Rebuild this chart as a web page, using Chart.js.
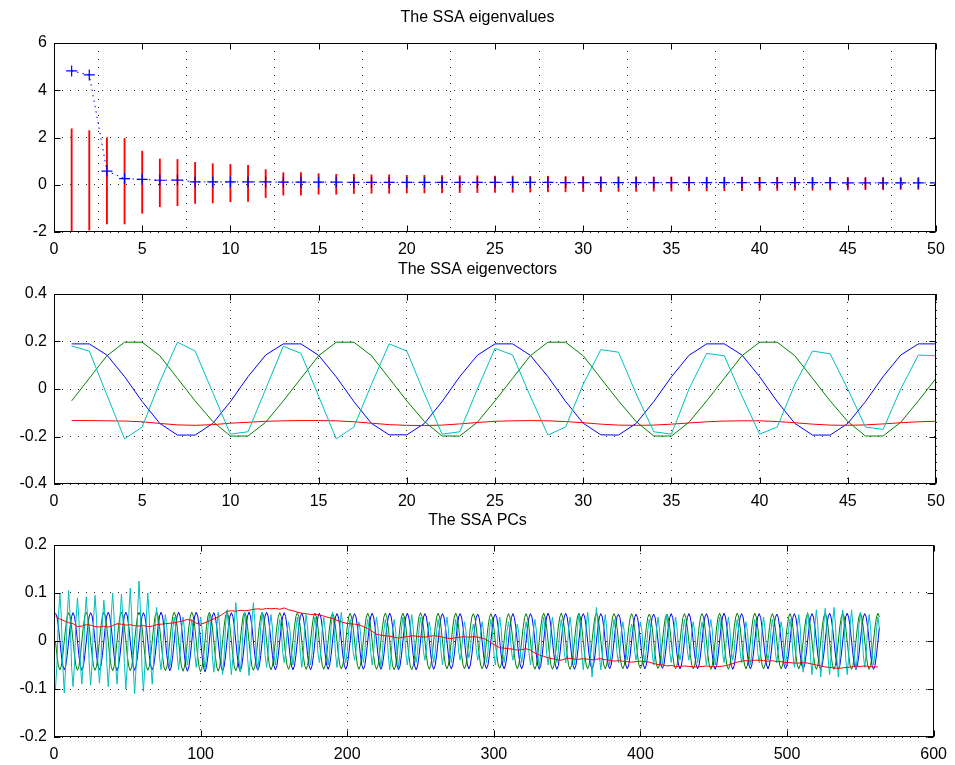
<!DOCTYPE html>
<html>
<head>
<meta charset="utf-8">
<title>SSA</title>
<script src="https://cdn.jsdelivr.net/npm/chart.js@4.4.1/dist/chart.umd.min.js"></script>
<style>
  html, body { margin: 0; padding: 0; background: #fff; }
  body { width: 955px; height: 765px; position: relative; overflow: hidden; }
  canvas { position: absolute; left: 0; }
</style>
</head>
<body>
<canvas id="eigval" width="955" height="262" style="top:0px"></canvas>
<canvas id="eigvec" width="955" height="259" style="top:255px"></canvas>
<canvas id="pcs" width="955" height="260" style="top:507px"></canvas>
<script>
// eigenvalues + error bars
const eigVal = [4.82, 4.65, 0.58, 0.26, 0.23, 0.19, 0.2, 0.12, 0.12, 0.12,
  0.12, 0.12, 0.11, 0.11, 0.11, 0.11, 0.1, 0.1, 0.1, 0.1,
  0.1, 0.1, 0.1, 0.1, 0.1, 0.1, 0.1, 0.1, 0.09, 0.09,
  0.09, 0.09, 0.09, 0.09, 0.09, 0.09, 0.09, 0.09, 0.09, 0.09,
  0.09, 0.09, 0.09, 0.09, 0.08, 0.08, 0.08, 0.08, 0.08, 0.08];
const eigHi = [2.37, 2.29, 1.99, 1.96, 1.42, 1.09, 1.07, 0.95, 0.89, 0.86,
  0.82, 0.64, 0.51, 0.51, 0.47, 0.44, 0.44, 0.42, 0.42, 0.4,
  0.4, 0.39, 0.38, 0.38, 0.37, 0.37, 0.36, 0.36, 0.35, 0.35,
  0.34, 0.34, 0.34, 0.33, 0.33, 0.33, 0.32, 0.32, 0.32, 0.31,
  0.31, 0.3, 0.3, 0.3, 0.3, 0.29, 0.29, 0.28, 0.28, 0.28];
const eigLo = [-2.0, -1.92, -1.66, -1.66, -1.21, -0.93, -0.89, -0.79, -0.77, -0.72,
  -0.71, -0.54, -0.44, -0.44, -0.4, -0.4, -0.37, -0.36, -0.36, -0.35,
  -0.35, -0.34, -0.33, -0.33, -0.32, -0.32, -0.31, -0.3, -0.3, -0.29,
  -0.29, -0.28, -0.28, -0.27, -0.27, -0.26, -0.26, -0.25, -0.25, -0.24,
  -0.24, -0.23, -0.23, -0.22, -0.22, -0.21, -0.21, -0.2, -0.2, -0.2];

// eigenvectors 1-4
const ev1 = [.19,.19,.143,.052,-.053,-.145,-.194,-.194,-.145,-.053,.052,.143,
  .19,.19,.142,.051,-.053,-.145,-.193,-.193,-.145,-.053,.052,.142,
  .19,.19,.142,.052,-.052,-.144,-.193,-.194,-.145,-.053,.051,.142,
  .19,.19,.143,.052,-.053,-.145,-.194,-.194,-.145,-.053,.052,.143,
  .19,.19];
const ev2 = [-.05,.045,.14,.197,.197,.14,.045,-.05,-.137,-.198,-.198,-.14,
  -.05,.045,.14,.197,.197,.14,.045,-.05,-.137,-.198,-.198,-.14,
  -.05,.045,.14,.197,.197,.14,.045,-.05,-.137,-.198,-.198,-.14,
  -.05,.045,.14,.197,.197,.14,.045,-.05,-.137,-.198,-.198,-.14,
  -.05,.045];
const ev3 = [-.133,-.133,-.134,-.135,-.138,-.145,-.151,-.153,-.15,-.144,
  -.14,-.136,-.134,-.133,-.133,-.134,-.138,-.144,-.15,-.153,
  -.154,-.152,-.147,-.141,-.136,-.134,-.133,-.134,-.137,-.142,
  -.148,-.152,-.153,-.152,-.148,-.143,-.138,-.135,-.134,-.134,
  -.137,-.142,-.148,-.152,-.153,-.151,-.147,-.142,-.138,-.136];
const ev4 = [.181,.16,-.025,-.21,-.16,.03,.197,.16,-.015,-.19,
  -.18,0,.18,.15,-.03,-.21,-.16,.02,.19,.16,
  -.02,-.19,-.18,0,.171,.143,-.03,-.194,-.16,.02,
  .166,.155,-.02,-.18,-.19,0,.15,.14,-.03,-.19,
  -.16,.02,.16,.148,0,-.16,-.17,0,.143,.14];

// principal components
const pc1 = [
  .058,.051,.03,.001,-.029,-.051,-.06,-.052,-.03,0,.03,.051,
  .059,.051,.029,0,-.03,-.052,-.061,-.053,-.031,-.001,.029,.051,
  .059,.052,.03,0,-.03,-.052,-.06,-.052,-.03,0,.03,.052,
  .06,.052,.03,0,-.031,-.053,-.062,-.053,-.03,0,.03,.052,
  .06,.052,.03,0,-.03,-.052,-.061,-.052,-.03,0,.03,.051,
  .059,.051,.03,0,-.03,-.052,-.06,-.052,-.03,0,.03,.052,
  .06,.052,.03,.001,-.03,-.053,-.062,-.054,-.031,0,.03,.052,
  .06,.052,.03,0,-.031,-.054,-.063,-.054,-.031,0,.03,.052,
  .06,.052,.03,0,-.031,-.055,-.064,-.055,-.031,0,.03,.052,
  .059,.051,.03,0,-.031,-.054,-.063,-.054,-.031,0,.03,.052,
  .059,.051,.03,0,-.031,-.054,-.062,-.054,-.031,0,.03,.052,
  .06,.052,.03,0,-.03,-.053,-.061,-.053,-.03,0,.03,.052,
  .06,.052,.03,0,-.03,-.052,-.06,-.052,-.03,0,.03,.051,
  .059,.051,.029,0,-.03,-.052,-.06,-.052,-.03,0,.03,.051,
  .058,.05,.029,0,-.03,-.052,-.06,-.052,-.03,0,.029,.05,
  .058,.05,.029,0,-.029,-.051,-.059,-.051,-.03,0,.029,.05,
  .057,.05,.029,0,-.029,-.051,-.059,-.051,-.029,0,.029,.05,
  .057,.05,.029,0,-.029,-.051,-.059,-.051,-.029,0,.029,.05,
  .058,.05,.029,0,-.029,-.051,-.059,-.051,-.029,0,.029,.05,
  .058,.05,.029,0,-.03,-.052,-.06,-.052,-.03,0,.029,.05,
  .058,.05,.029,0,-.03,-.052,-.06,-.052,-.03,0,.029,.05,
  .057,.05,.029,0,-.029,-.051,-.059,-.051,-.029,0,.029,.05,
  .057,.05,.029,0,-.029,-.051,-.058,-.05,-.029,0,.029,.05,
  .057,.05,.029,0,-.029,-.05,-.058,-.05,-.029,0,.029,.049,
  .056,.049,.028,0,-.029,-.05,-.058,-.05,-.029,0,.028,.049,
  .056,.049,.028,0,-.029,-.05,-.058,-.05,-.029,0,.028,.049,
  .057,.049,.028,0,-.029,-.05,-.058,-.05,-.029,0,.028,.049,
  .057,.05,.029,0,-.029,-.051,-.059,-.051,-.029,0,.029,.05,
  .058,.05,.029,0,-.029,-.051,-.059,-.051,-.029,0,.029,.05,
  .058,.05,.029,0,-.029,-.051,-.059,-.051,-.029,0,.029,.05,
  .057,.05,.029,0,-.029,-.05,-.058,-.05,-.029,0,.029,.05,
  .057,.05,.029,0,-.029,-.05,-.058,-.05,-.029,0,.029,.05,
  .056,.049,.028,0,-.029,-.05,-.058,-.05,-.029,0,.028,.049,
  .056,.049,.028,0,-.029,-.05,-.058,-.05,-.029,0,.028,.049,
  .056,.049,.028,0,-.029,-.05,-.057,-.05,-.028,0,.028,.049,
  .057,.049,.028,0,-.029,-.05,-.058,-.05,-.029,0,.028,.049,
  .057,.05,.029,0,-.029,-.05,-.058,-.05,-.029,0,.029,.05,
  .057,.05,.029,0,-.029,-.051,-.059,-.051,-.029,0,.029,.05,
  .058,.05,.029,0,-.029,-.051,-.059,-.051,-.029,0,.029,.05,
  .057,.05,.029,0,-.029,-.05,-.058,-.05,-.029,0,.029,.05,
  .057,.049,.028,0,-.029,-.05,-.058,-.05,-.029,0,.028,.049,
  .056,.049,.028,0,-.029,-.05,-.058,-.05,-.029,0,.028,.049,
  .057,.049,.028,0,-.029,-.05,-.058,-.05,-.029,0,.028,.049,
  .057,.05,.029,0,-.029,-.051,-.059,-.051,-.029,0,.029,.05,
  .058,.05,.029,0,-.029,-.051,-.059,-.051,-.029,0,.029,.05,
  .058,.05,.029,0,-.029,-.051,-.059,-.051,-.029,0,.029,.05,
  .057,.05,.029,0,-.029,-.051,-.059,-.051,-.029,0,.028];
const pc2 = [
  0,-.03,-.052,-.06,-.052,-.03,0,.029,.051,.059,.051,.029,
  0,-.03,-.052,-.061,-.053,-.031,0,.03,.052,.06,.052,.03,
  0,-.03,-.053,-.061,-.053,-.03,0,.03,.052,.06,.052,.03,
  0,-.031,-.053,-.062,-.053,-.031,0,.03,.052,.06,.052,.03,
  0,-.031,-.053,-.062,-.054,-.031,0,.03,.052,.06,.052,.03,
  0,-.03,-.053,-.061,-.053,-.03,0,.03,.052,.06,.052,.03,
  0,-.031,-.054,-.062,-.054,-.031,0,.03,.052,.06,.052,.03,
  0,-.031,-.054,-.063,-.054,-.031,0,.03,.052,.06,.052,.03,
  0,-.032,-.055,-.064,-.055,-.032,0,.03,.052,.06,.052,.03,
  0,-.031,-.054,-.063,-.054,-.031,0,.03,.052,.06,.052,.03,
  0,-.031,-.054,-.062,-.054,-.031,0,.03,.052,.06,.052,.03,
  0,-.03,-.053,-.061,-.053,-.03,0,.03,.052,.06,.052,.03,
  0,-.03,-.052,-.06,-.052,-.03,0,.03,.051,.059,.051,.03,
  0,-.03,-.051,-.059,-.051,-.03,0,.029,.051,.059,.051,.029,
  0,-.03,-.051,-.059,-.051,-.029,0,.029,.05,.058,.05,.029,
  0,-.029,-.051,-.059,-.051,-.029,0,.029,.05,.058,.05,.029,
  0,-.029,-.051,-.058,-.05,-.029,0,.029,.05,.058,.05,.029,
  0,-.029,-.051,-.059,-.051,-.029,0,.029,.05,.058,.05,.029,
  0,-.03,-.051,-.059,-.051,-.03,0,.029,.05,.058,.05,.029,
  0,-.03,-.052,-.06,-.052,-.03,0,.029,.05,.058,.05,.029,
  0,-.03,-.052,-.06,-.052,-.03,0,.029,.051,.059,.051,.029,
  0,-.03,-.051,-.059,-.051,-.029,0,.029,.05,.058,.05,.029,
  0,-.029,-.05,-.058,-.05,-.029,0,.029,.05,.058,.05,.029,
  0,-.029,-.05,-.058,-.05,-.029,0,.029,.05,.057,.05,.029,
  0,-.029,-.05,-.058,-.05,-.029,0,.028,.049,.057,.049,.028,
  0,-.029,-.05,-.057,-.05,-.029,0,.028,.049,.057,.049,.028,
  0,-.029,-.05,-.058,-.05,-.029,0,.028,.049,.057,.049,.028,
  0,-.029,-.051,-.059,-.051,-.029,0,.029,.05,.058,.05,.029,
  0,-.029,-.051,-.059,-.051,-.029,0,.029,.05,.058,.05,.029,
  0,-.029,-.051,-.059,-.051,-.029,0,.029,.05,.058,.05,.029,
  0,-.029,-.05,-.058,-.05,-.029,0,.029,.05,.058,.05,.029,
  0,-.029,-.05,-.058,-.05,-.029,0,.029,.05,.057,.05,.029,
  0,-.029,-.05,-.058,-.05,-.029,0,.028,.049,.057,.049,.028,
  0,-.029,-.05,-.057,-.05,-.028,0,.028,.049,.056,.049,.028,
  0,-.028,-.05,-.057,-.05,-.028,0,.028,.049,.056,.049,.028,
  0,-.029,-.05,-.058,-.05,-.029,0,.028,.049,.057,.049,.028,
  0,-.029,-.05,-.058,-.05,-.029,0,.029,.05,.057,.05,.029,
  0,-.029,-.051,-.059,-.051,-.029,0,.029,.05,.058,.05,.029,
  0,-.029,-.051,-.059,-.051,-.029,0,.029,.05,.058,.05,.029,
  0,-.029,-.05,-.058,-.05,-.029,0,.029,.05,.058,.05,.029,
  0,-.029,-.05,-.058,-.05,-.029,0,.028,.049,.057,.049,.028,
  0,-.029,-.05,-.058,-.05,-.029,0,.028,.049,.057,.049,.028,
  0,-.029,-.05,-.058,-.05,-.029,0,.028,.049,.057,.049,.028,
  0,-.029,-.051,-.059,-.051,-.029,0,.029,.05,.058,.05,.029,
  0,-.029,-.051,-.059,-.051,-.029,0,.029,.05,.058,.05,.029,
  0,-.029,-.051,-.059,-.051,-.029,0,.029,.05,.058,.05,.029,
  0,-.029,-.051,-.059,-.051,-.029,0,.029,.05,.058,.05];
// PC3 read every third sample
const pc3 = [
  .052,.046,.042,.038,.036,.03,.031,.034,.033,.03,
  .029,.031,.029,.032,.036,.035,.033,.034,.032,.031,
  .032,.03,.031,.034,.035,.036,.037,.038,.04,.042,
  .045,.043,.037,.035,.038,.042,.046,.05,.056,.062,
  .063,.062,.064,.063,.064,.066,.067,.066,.068,.067,
  .068,.066,.069,.065,.063,.06,.058,.057,.055,.056,
  .054,.052,.049,.047,.043,.04,.037,.036,.035,.034,
  .03,.026,.02,.014,.012,.011,.01,.008,.006,.008,
  .009,.011,.01,.009,.008,.01,.011,.01,.008,.006,
  .005,.007,.008,.009,.008,.009,.008,.006,.003,-.004,
  -.009,-.014,-.015,-.016,-.017,-.019,-.018,-.016,-.019,-.025,
  -.029,-.032,-.035,-.037,-.039,-.04,-.037,-.036,-.038,-.038,
  -.037,-.038,-.039,-.038,-.037,-.039,-.04,-.042,-.041,-.042,
  -.043,-.044,-.043,-.042,-.043,-.044,-.047,-.049,-.05,-.052,
  -.051,-.053,-.053,-.052,-.053,-.054,-.054,-.053,-.052,-.053,
  -.054,-.053,-.052,-.05,-.047,-.044,-.042,-.041,-.042,-.04,
  -.04,-.041,-.042,-.041,-.043,-.043,-.045,-.045,-.046,-.046,
  -.045,-.046,-.048,-.05,-.052,-.054,-.055,-.056,-.057,-.056,
  -.055,-.054,-.052,-.053,-.052,-.053,-.054,-.054];
const pc4 = [
  -.1,-.05,.05,.1,.05,-.05,
  -.108,-.052,.054,.105,.05,-.055,
  -.095,-.048,.044,.09,.046,-.05,
  -.09,-.044,.047,.092,.045,-.046,
  -.092,-.047,.048,.095,.047,-.045,
  -.088,-.043,.042,.085,.043,-.046,
  -.095,-.046,.05,.1,.05,-.048,
  -.09,-.045,.049,.098,.048,-.047,
  -.1,-.05,.055,.11,.054,-.052,
  -.11,-.055,.062,.125,.06,-.054,
  -.105,-.05,.05,.1,.048,-.048,
  -.09,-.04,.036,.07,.035,-.035,
  -.06,-.03,.028,.055,.027,-.028,
  -.055,-.027,.025,.05,.025,-.028,
  -.06,-.03,.026,.05,.024,-.03,
  -.05,-.026,.022,.045,.022,-.026,
  -.055,-.027,.025,.05,.026,-.027,
  -.06,-.03,.028,.055,.027,-.031,
  -.065,-.032,.03,.06,.03,-.033,
  -.07,-.034,.033,.065,.032,-.035,
  -.07,-.036,.04,.08,.04,-.034,
  -.065,-.032,.03,.06,.03,-.034,
  -.072,-.036,.04,.08,.039,-.035,
  -.06,-.03,.03,.06,.03,-.03,
  -.055,-.027,.028,.055,.027,-.028,
  -.05,-.025,.023,.045,.022,-.024,
  -.045,-.022,.02,.04,.02,-.023,
  -.05,-.025,.025,.05,.025,-.025,
  -.055,-.028,.028,.055,.027,-.027,
  -.05,-.025,.025,.05,.025,-.024,
  -.045,-.023,.025,.05,.024,-.024,
  -.05,-.025,.03,.06,.03,-.026,
  -.055,-.028,.03,.06,.029,-.027,
  -.045,-.022,.023,.045,.022,-.022,
  -.04,-.02,.02,.04,.02,-.021,
  -.045,-.022,.023,.045,.022,-.023,
  -.05,-.025,.025,.05,.025,-.026,
  -.055,-.027,.023,.045,.022,-.029,
  -.06,-.03,.022,.045,.023,-.028,
  -.055,-.027,.025,.05,.025,-.026,
  -.05,-.025,.028,.055,.027,-.024,
  -.045,-.022,.025,.05,.025,-.022,
  -.04,-.02,.02,.04,.02,-.021,
  -.045,-.023,.022,.045,.023,-.023,
  -.05,-.025,.025,.05,.025,-.024,
  -.045,-.022,.022,.045,.022,-.021,
  -.04,-.02,.02,.04,.02,-.019,
  -.035,-.018,.018,.035,.017,-.019,
  -.04,-.02,.02,.04,.02,-.021,
  -.045,-.022,.023,.045,.022,-.024,
  -.05,-.025,.025,.05,.025,-.024,
  -.045,-.022,.02,.04,.02,-.021,
  -.04,-.02,.018,.035,.017,-.021,
  -.045,-.022,.02,.04,.02,-.024,
  -.05,-.025,.023,.045,.022,-.026,
  -.055,-.027,.025,.05,.025,-.026,
  -.05,-.025,.025,.05,.025,-.024,
  -.045,-.022,.022,.045,.023,-.022,
  -.045,-.023,.025,.05,.025,-.024,
  -.05,-.025,.028,.055,.028,-.027,
  -.06,-.03,.03,.06,.03,-.034,
  -.075,-.037,.035,.07,.035,-.032,
  -.06,-.03,.028,.055,.027,-.026,
  -.05,-.025,.022,.045,.022,-.024,
  -.045,-.022,.02,.04,.02,-.021,
  -.04,-.02,.018,.035,.018,-.02,
  -.04,-.02,.02,.04,.02,-.021,
  -.045,-.022,.022,.045,.022,-.024,
  -.05,-.025,.025,.05,.025,-.025,
  -.05,-.025,.028,.055,.027,-.024,
  -.045,-.022,.025,.05,.025,-.022,
  -.04,-.02,.022,.045,.022,-.02,
  -.04,-.02,.02,.04,.02,-.021,
  -.045,-.022,.02,.04,.02,-.024,
  -.05,-.025,.022,.045,.023,-.025,
  -.05,-.025,.025,.05,.025,-.024,
  -.045,-.022,.025,.05,.025,-.022,
  -.04,-.02,.022,.045,.022,-.022,
  -.045,-.022,.02,.04,.02,-.024,
  -.05,-.025,.022,.045,.022,-.024,
  -.045,-.022,.025,.05,.025,-.022,
  -.04,-.02,.022,.045,.022,-.022,
  -.045,-.022,.02,.04,.02,-.024,
  -.05,-.025,.022,.045,.023,-.027,
  -.055,-.028,.027,.055,.028,-.03,
  -.065,-.032,.03,.06,.03,-.034,
  -.07,-.035,.033,.065,.032,-.036,
  -.075,-.037,.034,.068,.034,-.036,
  -.07,-.035,.035,.07,.035,-.036,
  -.075,-.037,.032,.065,.032,-.036,
  -.07,-.035,.032,.065,.032,-.032,
  -.06,-.03,.03,.06,.03,-.028,
  -.055,-.027,.027,.055,.027,-.026,
  -.05,-.025,.025,.05,.025];

const eigIdx = eigVal.map((_, i) => i + 1);
const pcIdx = pc1.map((_, i) => i + 1);
const pc3Idx = pc3.map((_, i) => 1 + 3 * i);

const BLUE = '#0000ff', GREEN = '#008000', RED = '#ff0000', CYAN = '#00bfbf';

Chart.defaults.font.family = "'Liberation Sans', Arial, sans-serif";
Chart.defaults.font.size = 16;
Chart.defaults.color = '#000';

function fmt(v) {
  return Math.abs(v) < 1e-9 ? '0' : String(Math.round(v * 100) / 100);
}

function pts(xs, ys) {
  return xs.map((x, i) => ({ x: x, y: ys[i] }));
}

// frame round the plot area and inward tick marks, like the old matlab look
const axesBox = {
  id: 'axesBox',
  afterDatasetsDraw(chart) {
    const { ctx, chartArea: a, scales } = chart;
    const L = Math.round(a.left) + 0.5, R = Math.round(a.right) - 0.5;
    const T = Math.round(a.top) + 0.5, B = Math.round(a.bottom) - 0.5;
    ctx.save();
    ctx.strokeStyle = '#000';
    ctx.lineWidth = 1;
    ctx.beginPath();
    scales.x.ticks.forEach(t => {
      const px = Math.round(scales.x.getPixelForValue(t.value)) + 0.5;
      ctx.moveTo(px, B); ctx.lineTo(px, B - 6);
      ctx.moveTo(px, T); ctx.lineTo(px, T + 6);
    });
    scales.y.ticks.forEach(t => {
      const py = Math.round(scales.y.getPixelForValue(t.value)) + 0.5;
      ctx.moveTo(L, py); ctx.lineTo(L + 6, py);
      ctx.moveTo(R, py); ctx.lineTo(R - 6, py);
    });
    ctx.stroke();
    ctx.strokeRect(L, T, R - L, B - T);
    ctx.restore();
  }
};

function makeOptions(title, padTop, padBottom, xr, yr) {
  const grid = { color: 'rgba(0,0,0,0.85)', lineWidth: 1, drawTicks: false };
  const border = { display: false, dash: [1, 7] };
  return {
    responsive: false,
    animation: false,
    events: [],
    layout: { padding: 0 },
    plugins: {
      legend: { display: false },
      tooltip: { enabled: false },
      title: {
        display: true, text: title, color: '#000',
        font: { size: 16, weight: 'normal' },
        padding: { top: padTop, bottom: padBottom }
      }
    },
    scales: {
      x: {
        type: 'linear', min: xr[0], max: xr[1], offset: false,
        ticks: { stepSize: xr[2], autoSkip: false, maxRotation: 0, padding: 8, callback: fmt },
        grid: grid, border: border,
        afterFit: s => { s.height = 30; }
      },
      y: {
        type: 'linear', min: yr[0], max: yr[1],
        ticks: { stepSize: yr[2], autoSkip: false, padding: 7, callback: fmt },
        grid: grid, border: border,
        afterFit: s => { s.width = 54; }
      },
      // empty right axis, only keeps the right margin so the title stays centred on the figure
      yRight: {
        type: 'linear', position: 'right',
        ticks: { display: false }, grid: { display: false, drawTicks: false },
        border: { display: false },
        afterFit: s => { s.width = 19; }
      }
    }
  };
}

new Chart(document.getElementById('eigval'), {
  type: 'line',
  data: {
    datasets: [
      {
        type: 'line', data: pts(eigIdx, eigVal), borderColor: BLUE, borderWidth: 1,
        borderDash: [1.5, 4], pointStyle: 'cross', pointRadius: 5.5,
        pointBorderWidth: 1.2, pointBorderColor: BLUE, order: 1
      },
      {
        type: 'bar', data: eigIdx.map((x, i) => ({ x: x, y: [eigLo[i], eigHi[i]] })),
        backgroundColor: RED, borderWidth: 0, barThickness: 1.2, order: 2
      }
    ]
  },
  options: makeOptions('The SSA eigenvalues', 8.4, 15.4, [0, 50, 5], [-2, 6, 2]),
  plugins: [axesBox]
});

function lineSet(xs, ys, color, order) {
  return { data: pts(xs, ys), borderColor: color, borderWidth: 1, pointRadius: 0, tension: 0, order: order };
}

new Chart(document.getElementById('eigvec'), {
  type: 'line',
  data: {
    datasets: [
      lineSet(eigIdx, ev1, BLUE, 4),
      lineSet(eigIdx, ev2, GREEN, 3),
      lineSet(eigIdx, ev3, RED, 2),
      lineSet(eigIdx, ev4, CYAN, 1)
    ]
  },
  options: makeOptions('The SSA eigenvectors', 5.4, 14.4, [0, 50, 5], [-0.4, 0.4, 0.2]),
  plugins: [axesBox]
});

new Chart(document.getElementById('pcs'), {
  type: 'line',
  data: {
    datasets: [
      lineSet(pcIdx, pc1, BLUE, 4),
      lineSet(pcIdx, pc2, GREEN, 3),
      lineSet(pc3Idx, pc3, RED, 1),
      lineSet(pcIdx, pc4, CYAN, 2)
    ]
  },
  options: makeOptions('The SSA PCs', 4.4, 14.4, [0, 600, 100], [-0.2, 0.2, 0.1]),
  plugins: [axesBox]
});
</script>
</body>
</html>
